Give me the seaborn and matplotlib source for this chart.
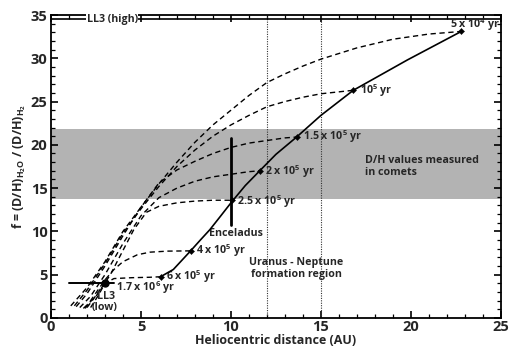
import numpy as np
import pandas as pd
import matplotlib
matplotlib.use("Agg")
import matplotlib.pyplot as plt
from matplotlib.ticker import MultipleLocator
import seaborn as sns

sns.set_theme(style="white")
plt.rcParams['font.family'] = ['Open Sans', 'DejaVu Sans']
plt.rcParams['font.weight'] = 'bold'
plt.rcParams['mathtext.fontset'] = 'custom'
plt.rcParams['mathtext.rm'] = 'Open Sans:bold'
plt.rcParams['mathtext.bf'] = 'Open Sans:bold'
plt.rcParams['mathtext.it'] = 'Open Sans:bold'

# ---- data ----
curve_labels = ["5e4", "1e5", "1.5e5", "2e5", "2.5e5", "4e5", "6e5", "1.7e6"]
curve_x = {
    "5e4":  [1.1, 2, 3, 4, 5, 6, 7, 8, 9, 10, 11, 12, 13, 14, 15, 17, 19, 21, 22.8],
    "1e5":  [1.3, 2, 3, 4, 5, 6, 7, 8, 9, 10, 11, 12, 13, 14, 15, 16.8],
    "1.5e5": [1.4, 2, 3, 4, 5, 6, 7, 8, 9, 10, 11, 12, 13, 13.65],
    "2e5":  [1.6, 2.2, 3, 4, 5, 6, 7, 8, 9, 10, 11, 11.6],
    "2.5e5": [1.8, 2.5, 3.3, 4, 4.6, 5.3, 6, 7, 8, 9, 10.04],
    "4e5":  [1.9, 2.4, 3.0, 3.5, 4.0, 4.8, 5.5, 6.5, 7.76],
    "6e5":  [2.2, 2.6, 3.0, 3.5, 4.5, 5.5, 6.09],
    "1.7e6": [2.0, 2.4, 2.8, 3.0],
}
curve_y = {
    "5e4":  [1.4, 3.5, 6.5, 10, 12.8, 15.5, 18, 20.3, 22.3, 24, 25.7, 27.2, 28.2, 29.1, 29.9, 31.2, 32.2, 32.8, 33.1],
    "1e5":  [1.4, 3.2, 6.3, 9.8, 12.6, 15.2, 17.5, 19.4, 21, 22.3, 23.4, 24.4, 25, 25.5, 25.9, 26.3],
    "1.5e5": [1.3, 2.8, 6, 9.5, 12.8, 15.6, 17.1, 18.1, 19, 19.7, 20.2, 20.5, 20.8, 20.9],
    "2e5":  [1.2, 2.5, 5, 8.6, 11.8, 13.9, 15.0, 15.8, 16.3, 16.6, 16.9, 17.0],
    "2.5e5": [1.1, 2.5, 5, 7.8, 10.2, 12.2, 12.9, 13.3, 13.5, 13.6, 13.6],
    "4e5":  [1.1, 2.6, 4.4, 5.6, 6.5, 7.3, 7.6, 7.72, 7.75],
    "6e5":  [1.2, 2.5, 4.0, 4.55, 4.65, 4.7, 4.76],
    "1.7e6": [1.2, 2.3, 3.5, 4.1],
}
time_labels = [r"5 x 10$^{4}$ yr", r"10$^{5}$ yr", r"1.5 x 10$^{5}$ yr", r"2 x 10$^{5}$ yr",
               r"2.5 x 10$^{5}$ yr", r"4 x 10$^{5}$ yr", r"6 x 10$^{5}$ yr", r"1.7 x 10$^{6}$ yr"]

locus_x = [6.09, 6.8, 7.76, 8.3, 8.83, 9.4, 10.04, 10.8, 11.6, 12.5, 13.65, 15.0, 16.8, 19.8, 22.8]
locus_y = [4.76, 5.6, 7.75, 9.0, 10.2, 11.7, 13.4, 15.3, 17.0, 18.9, 20.9, 23.4, 26.3, 29.8, 33.1]

ll3_high = 34.5
ll3_low = 4.0
ll3_low_x = [1.0, 3.5]
comet_band = [13.7, 21.8]
un_region = [12, 15]
enceladus_x = 10
enceladus_err = [10.7, 20.8]

# ---- figure ----
fig = plt.figure(figsize=(5.1, 3.49), dpi=100)
ax = fig.add_axes([0.1, 0.089, 0.882, 0.868])

ax.axhspan(comet_band[0], comet_band[1], color='#b3b3b3', lw=0, zorder=0)
for xv in un_region:
    ax.axvline(xv, color='#333333', lw=0.8, ls=(0, (1, 1.2)), zorder=1)

rows = []
for lab in curve_labels:
    for xv, yv in zip(curve_x[lab], curve_y[lab]):
        rows.append({"curve": lab, "x": xv, "y": yv})
df = pd.DataFrame(rows)
for lab in curve_labels:
    sub = df[df.curve == lab]
    sns.lineplot(data=sub, x="x", y="y", sort=False, estimator=None, color='black',
                 lw=1.0, ax=ax, zorder=3, linestyle=(0, (3.8, 2.6)))

sns.lineplot(x=locus_x, y=locus_y, sort=False, estimator=None, color='black', lw=1.2, ax=ax, zorder=4)

# end markers
end_x = [curve_x[l][-1] for l in curve_labels]
end_y = [curve_y[l][-1] for l in curve_labels]
sns.scatterplot(x=end_x, y=end_y, color='black', marker='D', s=10, ax=ax, zorder=5, edgecolor='black')

# LL3 lines
ax.axhline(ll3_high, color='black', lw=1.2, zorder=2)
ax.plot(ll3_low_x, [ll3_low, ll3_low], color='black', lw=1.4, zorder=4)
ax.plot([3.0], [ll3_low], 'o', color='black', ms=5, zorder=6)

# Enceladus
ax.plot([enceladus_x, enceladus_x], enceladus_err, color='black', lw=2.0, zorder=4)

fs = 7.7
ax.text(3.4, ll3_high, "LL3 (high)", fontsize=fs, fontweight='bold', ha='center', va='center',
        bbox=dict(facecolor='white', edgecolor='none', pad=0.5), zorder=6)
ax.text(23.55, 33.9, time_labels[0], fontsize=fs, fontweight='bold', ha='center', va='center')
ax.text(17.2, 26.3, time_labels[1], fontsize=fs, fontweight='bold', ha='left', va='center')
ax.text(14.0, 20.9, time_labels[2], fontsize=fs, fontweight='bold', ha='left', va='center')
ax.text(11.9, 16.9, time_labels[3], fontsize=fs, fontweight='bold', ha='left', va='center')
ax.text(10.35, 13.4, time_labels[4], fontsize=fs, fontweight='bold', ha='left', va='center')
ax.text(8.05, 7.75, time_labels[5], fontsize=fs, fontweight='bold', ha='left', va='center')
ax.text(6.4, 4.8, time_labels[6], fontsize=fs, fontweight='bold', ha='left', va='center')
ax.text(3.6, 3.55, time_labels[7], fontsize=fs, fontweight='bold', ha='left', va='center')
ax.text(3.05, 2.5, "LL3", fontsize=fs, fontweight='bold', ha='center', va='center')
ax.text(3.0, 1.15, "(low)", fontsize=fs, fontweight='bold', ha='center', va='center')
ax.text(10.3, 9.7, "Enceladus", fontsize=fs, fontweight='bold', ha='center', va='center')
ax.text(13.65, 5.7, "Uranus - Neptune\nformation region", fontsize=fs, fontweight='bold',
        ha='center', va='center', linespacing=1.2)
ax.text(17.45, 17.5, "D/H values measured\nin comets", fontsize=fs, fontweight='bold',
        ha='left', va='center', linespacing=1.2)

ax.set_xlim(0, 25)
ax.set_ylim(0, 35)
ax.xaxis.set_major_locator(MultipleLocator(5))
ax.xaxis.set_minor_locator(MultipleLocator(1))
ax.yaxis.set_major_locator(MultipleLocator(5))
ax.yaxis.set_minor_locator(MultipleLocator(1))
ax.tick_params(which='both', direction='in', top=True, right=True, bottom=True, left=True, color='black')
ax.tick_params(which='major', length=5, width=1.2, labelsize=10.5, pad=1.5)
ax.tick_params(axis='y', which='major', pad=2.5)
ax.tick_params(which='minor', length=3, width=0.9)
for lbl in ax.get_xticklabels() + ax.get_yticklabels():
    lbl.set_fontweight('bold')
for sp in ax.spines.values():
    sp.set_color('black')
    sp.set_linewidth(1.3)

ax.set_xlabel("Heliocentric distance (AU)", fontsize=9, fontweight='bold', labelpad=0)
ax.set_ylabel(r"f = (D/H)$_{\mathrm{H_2O}}$ / (D/H)$_{\mathrm{H_2}}$", fontsize=9, fontweight='bold', labelpad=2)

fig.savefig("out.png", dpi=100)
